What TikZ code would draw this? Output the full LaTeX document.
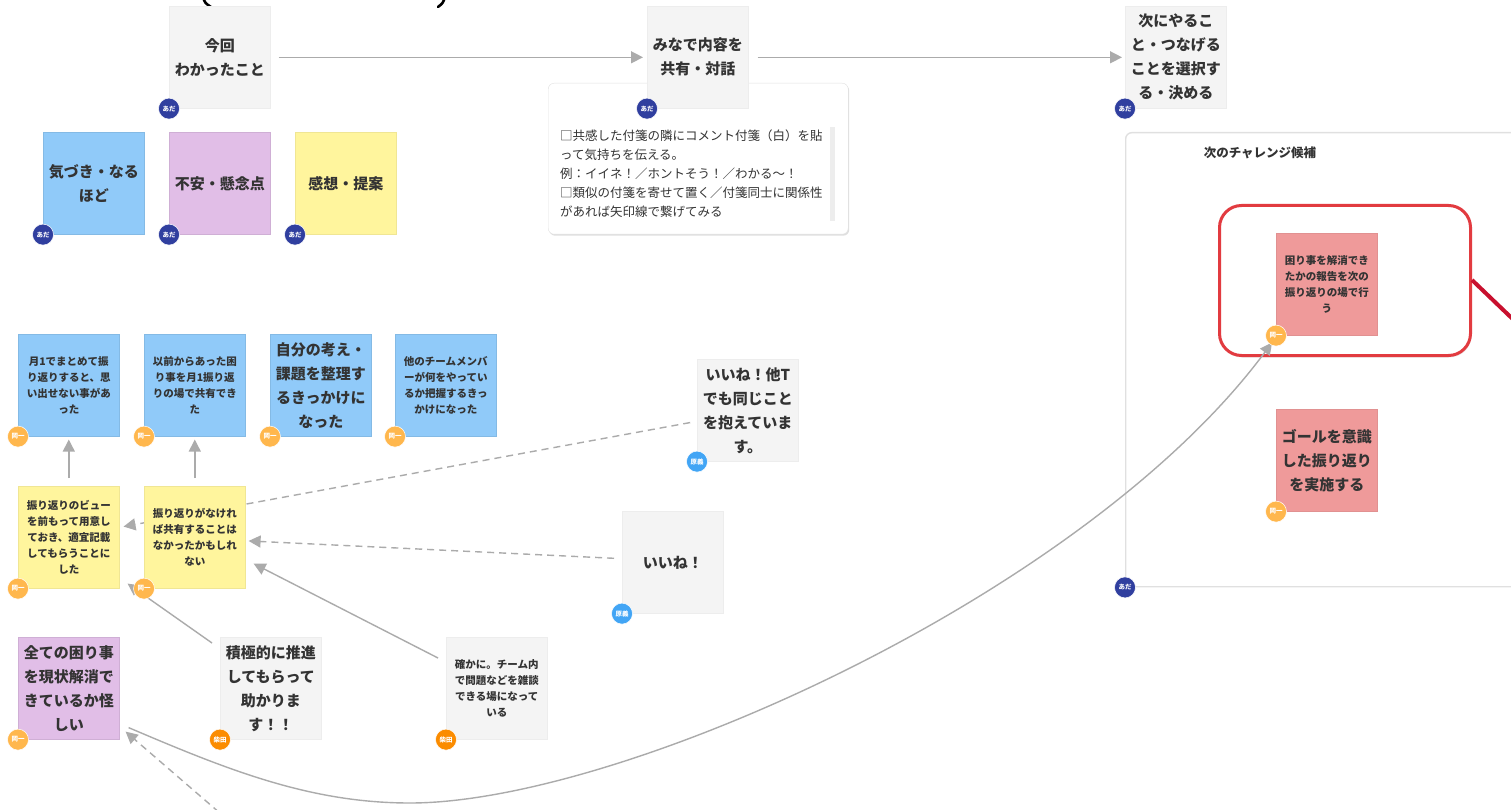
\documentclass[tikz,border=0pt]{standalone}
\usepackage{fontspec}
\setmainfont{Noto Sans CJK JP}
\usetikzlibrary{arrows.meta,calc,shadows}
\definecolor{ngray}{HTML}{F4F4F4}
\definecolor{nblue}{HTML}{90CAF9}
\definecolor{npurple}{HTML}{E1BEE7}
\definecolor{nyellow}{HTML}{FFF59D}
\definecolor{npink}{HTML}{EF9A9A}
\definecolor{avnavy}{HTML}{303F9F}
\definecolor{avorange}{HTML}{FFB74D}
\definecolor{avdark}{HTML}{FB8C00}
\definecolor{avsky}{HTML}{42A5F5}
\definecolor{connc}{HTML}{ABABAB}
\definecolor{hlred}{HTML}{E23B40}
\definecolor{linered}{HTML}{C8102E}
\definecolor{txt}{HTML}{333333}
\tikzset{
  stick/.style={rectangle, anchor=north west, minimum width=101pt, minimum height=102pt,
    inner sep=0pt, align=center, line width=0.6pt, text=txt,
    drop shadow={opacity=0.12, shadow xshift=0.8pt, shadow yshift=-1pt}},
  sgray/.style={stick, fill=ngray, draw=black!7},
  sblue/.style={stick, fill=nblue, draw=nblue!92!black},
  spurple/.style={stick, fill=npurple, draw=npurple!92!black},
  syellow/.style={stick, fill=nyellow, draw=nyellow!94!black},
  spink/.style={stick, fill=npink, draw=npink!94!black},
  bigtxt/.style={font=\fontsize{15}{24}\selectfont\bfseries},
  smalltxt/.style={font=\fontsize{10.5}{16}\selectfont\bfseries},
  av/.style={circle, minimum size=21pt, inner sep=0pt, text=white,
    font=\fontsize{6.5}{7}\selectfont\bfseries, draw=white, line width=0.5pt},
  avn/.style={av, fill=avnavy},
  avo/.style={av, fill=avorange},
  avd/.style={av, fill=avdark},
  avs/.style={av, fill=avsky},
  conn/.style={draw=connc, line width=1.4pt, -{Triangle[length=12pt,width=12pt]}},
  dconn/.style={conn, dash pattern=on 7pt off 5pt},
  parenfrag/.style={draw=black, line width=2.6pt, line cap=round},
}
\begin{document}
\begin{tikzpicture}[x=1pt,y=-1pt]
\useasboundingbox (0,0) rectangle (1511,810);
\fill[white] (0,0) rectangle (1511,810);

% cropped fragments of a title's brackets at the top edge
\draw[parenfrag] (203,-3) .. controls (205,3) .. (211,7);
\draw[parenfrag] (445,-3) .. controls (443,3) .. (438,7);

% container
\node[draw=black!12, line width=1.4pt, rounded corners=6pt, minimum width=420pt,
  minimum height=454pt, anchor=north west, inner sep=0pt] (cont) at (1125,132) {};
\node[font=\fontsize{12.5}{13}\selectfont\bfseries, text=txt] (conttitle) at (1260,153) {次のチャレンジ候補};

% note card
\node[draw=black!12, fill=white, rounded corners=6pt, minimum width=300pt, minimum height=151pt,
  anchor=north west, inner sep=0pt,
  drop shadow={opacity=0.25, shadow xshift=1pt, shadow yshift=-1.5pt}] (card) at (548,83) {};
\fill[black!7] (830,127) rectangle (835,221);
\node[anchor=west, align=left, inner sep=0pt, text=txt,
  font=\fontsize{12.5}{19}\selectfont] (cardtxt) at (560,174) {□共感した付箋の隣にコメント付箋（白）を貼\\って気持ちを伝える。\\例：イイネ！／ホントそう！／わかる～！\\□類似の付箋を寄せて置く／付箋同士に関係性\\があれば矢印線で繋げてみる};

% highlight
\node[draw=hlred, line width=3pt, rounded corners=22pt, minimum width=251pt, minimum height=150pt,
  anchor=north west, inner sep=0pt,
  drop shadow={opacity=0.15, shadow xshift=1pt, shadow yshift=-2pt}, fill=white] (hl) at (1218,204) {};
\coordinate (redend) at (1545,350);
\draw[linered, line width=4pt] ($(hl.north east)+(0,76)$) -- (redend);

% notes
\node[sgray,bigtxt] (konkai) at (169,6) {今回\\わかったこと};
\node[sgray,bigtxt] (minade) at (647,6) {みなで内容を\\共有・対話};
\node[sgray,bigtxt] (tsugi) at (1125,6) {次にやるこ\\と・つなげる\\ことを選択す\\る・決める};

\node[sblue,bigtxt] (kizuki) at (43,132) {気づき・なる\\ほど};
\node[spurple,bigtxt] (fuan) at (169,132) {不安・懸念点};
\node[syellow,bigtxt] (kanso) at (295,132) {感想・提案};

\node[sblue,smalltxt] (b1) at (18,334) {月1でまとめて振\\り返りすると、思\\い出せない事があ\\った};
\node[sblue,smalltxt] (b2) at (144,334) {以前からあった困\\り事を月1振り返\\りの場で共有でき\\た};
\node[sblue,bigtxt] (b3) at (270,334) {自分の考え・\\課題を整理す\\るきっかけに\\なった};
\node[sblue,smalltxt] (b4) at (395,334) {他のチームメンバ\\ーが何をやってい\\るか把握するきっ\\かけになった};

\node[syellow,smalltxt] (y1) at (18,486) {振り返りのビュー\\を前もって用意し\\ておき、適宜記載\\してもらうことに\\した};

\node[sgray,bigtxt] (iitT) at (697,359) {いいね！他T\\でも同じこと\\を抱えていま\\す。};
\node[sgray,bigtxt] (ii) at (622,511) {いいね！};

\node[spurple,bigtxt] (zenbu) at (18,637) {全ての困り事\\を現状解消で\\きているか怪\\しい};
\node[sgray,bigtxt] (sekkyoku) at (220,637) {積極的に推進\\してもらって\\助かりま\\す！！};
\node[sgray,smalltxt] (tashika) at (446,637) {確かに。チーム内\\で問題などを雑談\\できる場になって\\いる};

\node[spink,smalltxt] (komari) at (1276,233) {困り事を解消でき\\たかの報告を次の\\振り返りの場で行\\う};
\node[spink,bigtxt] (goal) at (1276,409) {ゴールを意識\\した振り返り\\を実施する};

% dashed connector iitT -> y1 (passes behind y2)
\draw[dconn, shorten <=7pt, shorten >=4pt] ($(iitT.west)+(0,11)$) -- ($(y1.east)+(0,-10)$);
\node[syellow,smalltxt] (y2) at (144,486) {振り返りがなけれ\\ば共有することは\\なかったかもしれ\\ない};

% connectors
\draw[conn, shorten <=8pt, shorten >=4pt] (konkai) -- (minade);
\draw[conn, shorten <=9pt, shorten >=3pt] (minade) -- (tsugi);
\draw[conn, shorten <=8pt, shorten >=3pt] (y1) -- (b1);
\draw[conn, shorten <=8pt, shorten >=3pt] (y2) -- (b2);
\draw[conn] ($(sekkyoku.north west)+(-8,6)$) -- ($(y1.south east)+(8,-5)$);
\draw[conn] ($(tashika.north west)+(-8,21)$) -- ($(y2.south east)+(8,-25)$);
\draw[dconn, shorten >=3pt] ($(ii.west)+(-8,-4)$) -- ($(y2.east)+(0,3.5)$);
\coordinate (dstart) at (228,820);
\draw[dconn] (dstart) -- ($(zenbu.south east)+(6,-8)$);
\draw[conn] ($(zenbu.south east)+(9,-12)$) .. controls (228,770) and (310,803) .. (410,803)
  .. controls (620,803) and (1085,595) .. ($(komari.south west)+(-4,7)$);

% avatars
\node[avn] (av1) at (konkai.south west) {あだ};
\node[avn] (av2) at (minade.south west) {あだ};
\node[avn] (av3) at (tsugi.south west) {あだ};
\node[avn] (av4) at (kizuki.south west) {あだ};
\node[avn] (av5) at (fuan.south west) {あだ};
\node[avn] (av6) at (kanso.south west) {あだ};
\node[avn] (av7) at (cont.south west) {あだ};
\node[avo] (av8) at (b1.south west) {岡一};
\node[avo] (av9) at (b2.south west) {岡一};
\node[avo] (av10) at (b3.south west) {岡一};
\node[avo] (av11) at (b4.south west) {岡一};
\node[avo] (av12) at (y1.south west) {岡一};
\node[avo] (av13) at (y2.south west) {岡一};
\node[avo] (av14) at (zenbu.south west) {岡一};
\node[avo] (av15) at (komari.south west) {岡一};
\node[avo] (av16) at (goal.south west) {岡一};
\node[avs] (av17) at (iitT.south west) {原義};
\node[avs] (av18) at (ii.south west) {原義};
\node[avd] (av19) at (sekkyoku.south west) {柴田};
\node[avd] (av20) at (tashika.south west) {柴田};
\end{tikzpicture}
\end{document}
